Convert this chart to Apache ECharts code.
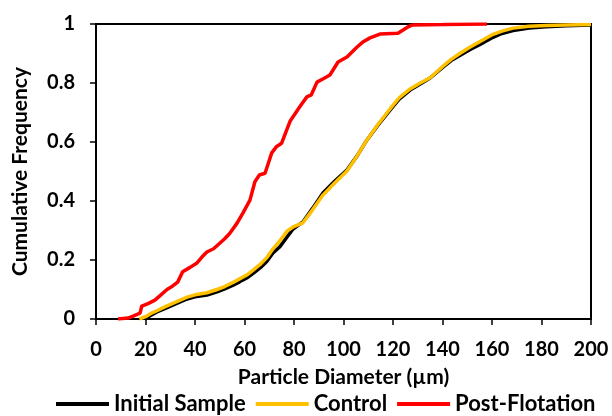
<!DOCTYPE html>
<html>
<head>
<meta charset="utf-8">
<script src="https://cdn.jsdelivr.net/npm/echarts@6/dist/echarts.min.js"></script>
<style>
    html, body {margin: 0; padding: 0; background: #fff;}
    #chart {width: 612px; height: 416px;}
</style>
</head>
<body>
<div id="chart"></div>
<script>
// cumulative frequency curves, [diameter (um), fraction]
var initialSample = [
    [19.8, 0], [22, 0.012], [24.6, 0.024], [28, 0.036], [31, 0.047], [34, 0.058], [36.8, 0.068],
    [40, 0.075], [44.8, 0.081], [48.9, 0.092], [52, 0.102], [55.4, 0.115], [58, 0.126], [60.9, 0.139],
    [63.5, 0.155], [66.3, 0.173], [69, 0.195], [71.5, 0.224], [74.3, 0.245], [77.2, 0.278],
    [79.6, 0.305], [83.6, 0.329], [87.5, 0.375], [91.7, 0.427], [96.5, 0.468], [101.4, 0.505],
    [105.5, 0.553], [109.5, 0.607], [114, 0.658], [118.8, 0.708], [122.5, 0.745], [126.9, 0.776],
    [131, 0.797], [135, 0.817], [140.2, 0.854], [143.5, 0.876], [147, 0.893], [151, 0.913],
    [155, 0.93], [160.4, 0.955], [164, 0.968], [168.5, 0.978], [175, 0.986], [182, 0.991],
    [190, 0.994], [200, 0.997]
];
var control = [
    [17.5, 0], [20, 0.008], [22, 0.018], [24.6, 0.028], [28, 0.042], [31, 0.053], [34, 0.064],
    [36.8, 0.074], [40, 0.082], [44.8, 0.089], [48.9, 0.1], [52, 0.11], [55.4, 0.124],
    [58, 0.136], [60.9, 0.149], [63.5, 0.166], [66.3, 0.185], [69, 0.208], [71.5, 0.238],
    [74.3, 0.265], [77.2, 0.298], [79.6, 0.312], [83.6, 0.326], [87.5, 0.37], [91.7, 0.42],
    [96.5, 0.462], [101.4, 0.502], [105.5, 0.553], [109.5, 0.607], [114, 0.66], [118.8, 0.712],
    [122.5, 0.75], [126.9, 0.78], [131, 0.8], [135, 0.818], [140.2, 0.857], [143.5, 0.88],
    [147, 0.9], [151, 0.921], [155, 0.94], [160.4, 0.965], [164, 0.976], [168.5, 0.986],
    [175, 0.992], [182, 0.995], [190, 0.997], [200, 0.998]
];
var postFlotation = [
    [8.9, 0], [13, 0.003], [15, 0.01], [17.8, 0.02], [18.5, 0.044], [21, 0.052], [23.8, 0.064],
    [26, 0.08], [28.7, 0.1], [31, 0.112], [33, 0.125], [35, 0.16], [38, 0.175], [40.8, 0.19],
    [42.8, 0.21], [44.8, 0.227], [47.5, 0.238], [50, 0.257], [52, 0.272], [54, 0.29], [57, 0.325],
    [59.4, 0.36], [62.2, 0.403], [64.2, 0.465], [66, 0.488], [68.3, 0.494], [71, 0.563],
    [73, 0.585], [75, 0.596], [78.4, 0.67], [82.4, 0.72], [85.2, 0.753], [87, 0.76],
    [89.3, 0.803], [92, 0.815], [94.5, 0.827], [97.8, 0.871], [101.4, 0.888], [105.5, 0.922],
    [108, 0.94], [110.7, 0.953], [114.7, 0.966], [122, 0.969], [126, 0.99], [128, 0.997],
    [140, 0.998], [158, 1.0]
];
var xTicks = [0, 20, 40, 60, 80, 100, 120, 140, 160, 180, 200];
var yTicks = [0, 0.2, 0.4, 0.6, 0.8, 1];

var myChart = echarts.init(document.getElementById('chart'));
var font = 'Lato, "Open Sans", sans-serif';

var lineSeries = function (name, data, color) {
    return {
        name: name,
        type: 'line',
        data: data,
        showSymbol: false,
        smooth: false,
        lineStyle: {color: color, width: 3.5},
        itemStyle: {color: color}
    };
};

var option = {
    animation: false,
    backgroundColor: '#fff',
    grid: {
        left: 96, right: 21, top: 24, bottom: 97,
        show: true, borderColor: '#000', borderWidth: 2
    },
    legend: {
        top: 393,
        left: 56,
        padding: 0,
        itemWidth: 53,
        itemHeight: 4,
        itemGap: 10,
        icon: 'rect',
        textStyle: {fontFamily: font, fontWeight: 'bold', fontSize: 22, color: '#000'},
        data: ['Initial Sample', 'Control', 'Post-Flotation']
    },
    xAxis: {
        type: 'value',
        min: xTicks[0],
        max: xTicks[xTicks.length - 1],
        interval: 20,
        name: 'Particle Diameter (µm)',
        nameLocation: 'middle',
        nameGap: 48,
        nameTextStyle: {fontFamily: font, fontWeight: 'bold', fontSize: 21, color: '#000'},
        axisLine: {lineStyle: {color: '#000', width: 2}},
        axisTick: {show: true, inside: false, length: 6, lineStyle: {color: '#000', width: 1.5}},
        axisLabel: {fontFamily: font, fontWeight: 'bold', fontSize: 20, color: '#000', margin: 21},
        splitLine: {show: false}
    },
    yAxis: {
        type: 'value',
        min: yTicks[0],
        max: yTicks[yTicks.length - 1],
        interval: 0.2,
        name: 'Cumulative Frequency',
        nameLocation: 'middle',
        nameGap: 65,
        nameTextStyle: {fontFamily: font, fontWeight: 'bold', fontSize: 21, color: '#000'},
        axisLine: {show: true, lineStyle: {color: '#000', width: 2}},
        axisTick: {show: true, inside: false, length: 6, lineStyle: {color: '#000', width: 1.5}},
        axisLabel: {fontFamily: font, fontWeight: 'bold', fontSize: 20, color: '#000', margin: 21},
        splitLine: {show: false}
    },
    series: [
        lineSeries('Initial Sample', initialSample, '#000000'),
        lineSeries('Control', control, '#FFC000'),
        lineSeries('Post-Flotation', postFlotation, '#FF0000')
    ]
};
myChart.setOption(option);
</script>
</body>
</html>
